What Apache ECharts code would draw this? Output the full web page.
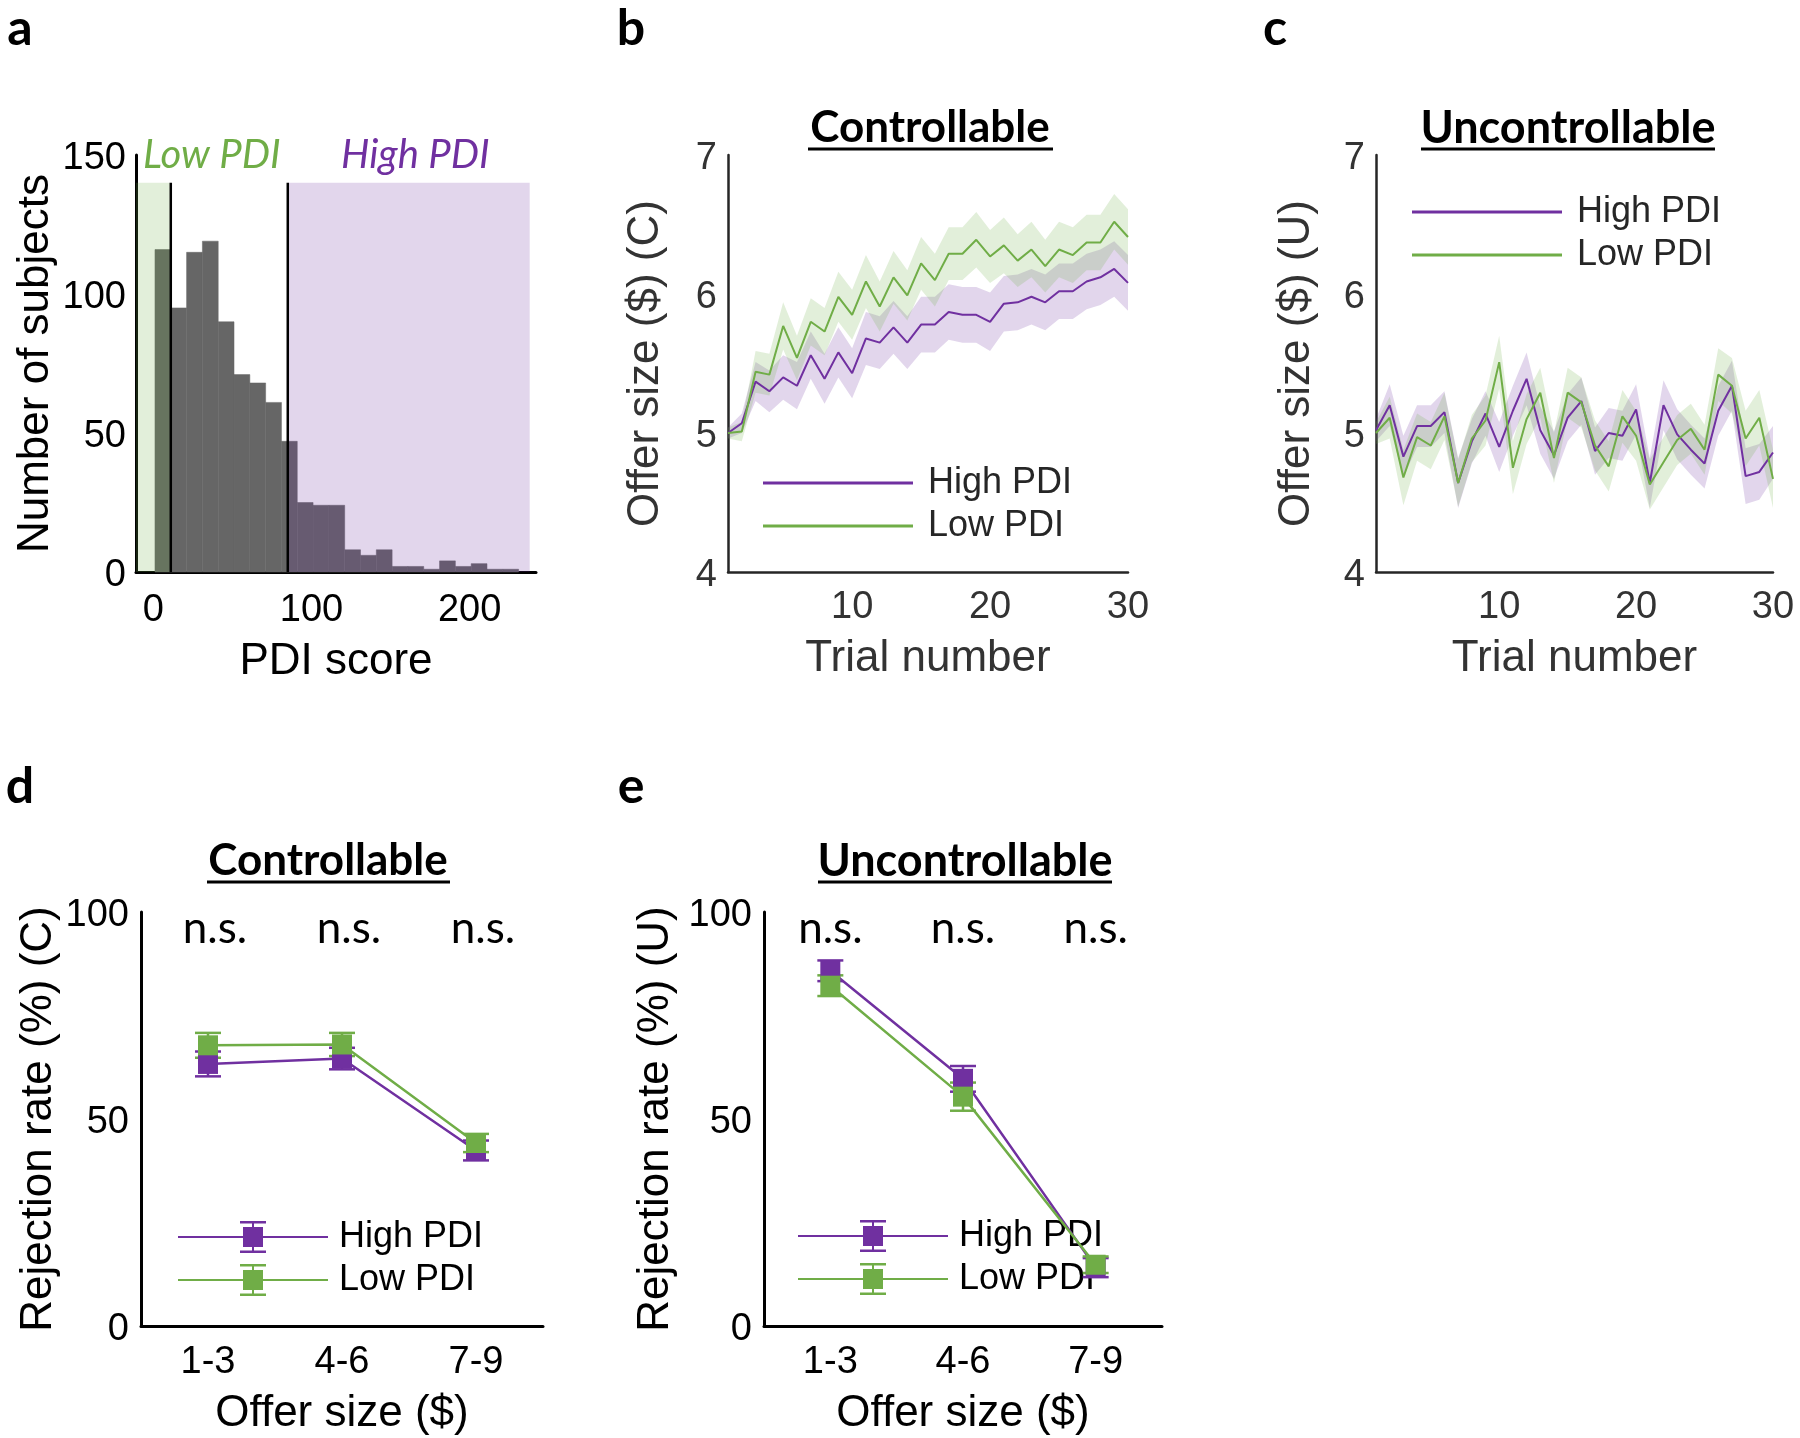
<!DOCTYPE html>
<html>
<head>
<meta charset="utf-8">
<script src="https://cdn.jsdelivr.net/npm/echarts@6.0.0/dist/echarts.min.js"></script>
<style>
html, body { margin: 0; padding: 0; background: #fff; }
#chart { width: 1800px; height: 1438px; }
</style>
</head>
<body>
<div id="chart"></div>
<script>
var PURPLE = "#7030a0", GREEN = "#70ad47";
var PURPLE_BAND = "rgba(112,48,160,0.2)", GREEN_BAND = "rgba(112,173,71,0.2)";
var AX_FONT = "'Liberation Sans', Arial, sans-serif";
var TXT_FONT = "Lato, 'Open Sans', sans-serif";

// panel a: PDI histogram
var pdiBinStart = [1, 11, 21, 31, 41, 51, 61, 71, 81, 91, 101, 111, 121, 131, 141, 151, 161, 171, 181, 191, 201, 211, 221];
var pdiBinWidth = 10;
var pdiCounts = [116, 95, 115, 119, 90, 71, 68, 61, 47, 25, 24, 24, 8, 6, 8, 2, 2, 1, 4, 2, 3, 1, 1];
var pdiCuts = [11, 85];
var pdiGroups = [
    { name: "Low PDI", from: -11, to: 11 },
    { name: "High PDI", from: 85, to: 238 }
];
var pdiGroupTop = 140;

// panels b, c: offer size per trial
var trials = [1, 2, 3, 4, 5, 6, 7, 8, 9, 10, 11, 12, 13, 14, 15, 16, 17, 18, 19, 20, 21, 22, 23, 24, 25, 26, 27, 28, 29, 30];
var ctrlHigh = [5.00, 5.07, 5.37, 5.30, 5.40, 5.34, 5.56, 5.39, 5.58, 5.43, 5.68, 5.65, 5.76, 5.65, 5.78, 5.78, 5.87, 5.85, 5.85, 5.80, 5.93, 5.94, 5.98, 5.94, 6.02, 6.02, 6.09, 6.12, 6.18, 6.08];
var ctrlHighSem = [0.04, 0.07, 0.14, 0.15, 0.16, 0.17, 0.17, 0.18, 0.18, 0.18, 0.19, 0.19, 0.19, 0.19, 0.20, 0.20, 0.20, 0.20, 0.20, 0.21, 0.20, 0.20, 0.20, 0.20, 0.20, 0.20, 0.20, 0.20, 0.20, 0.20];
var ctrlLow = [5.00, 5.01, 5.44, 5.42, 5.77, 5.54, 5.80, 5.73, 5.98, 5.85, 6.09, 5.91, 6.12, 5.99, 6.22, 6.10, 6.29, 6.29, 6.39, 6.27, 6.35, 6.24, 6.32, 6.20, 6.32, 6.28, 6.37, 6.37, 6.52, 6.41];
var ctrlLowSem = [0.04, 0.07, 0.15, 0.15, 0.17, 0.16, 0.17, 0.17, 0.18, 0.18, 0.19, 0.18, 0.19, 0.18, 0.19, 0.19, 0.19, 0.19, 0.20, 0.19, 0.20, 0.19, 0.20, 0.19, 0.20, 0.20, 0.20, 0.20, 0.20, 0.20];
var uncHigh = [5.02, 5.20, 4.83, 5.05, 5.05, 5.15, 4.64, 4.94, 5.14, 4.90, 5.16, 5.39, 5.02, 4.84, 5.11, 5.23, 4.87, 5.00, 4.98, 5.17, 4.64, 5.20, 4.99, 4.88, 4.78, 5.16, 5.34, 4.69, 4.72, 4.86];
var uncHighSem = [0.08, 0.15, 0.15, 0.15, 0.15, 0.15, 0.18, 0.16, 0.16, 0.18, 0.18, 0.19, 0.17, 0.17, 0.17, 0.17, 0.17, 0.18, 0.18, 0.18, 0.18, 0.18, 0.18, 0.18, 0.18, 0.18, 0.18, 0.20, 0.20, 0.19];
var uncLow = [5.00, 5.11, 4.68, 4.97, 4.91, 5.12, 4.64, 4.96, 5.09, 5.51, 4.75, 5.10, 5.29, 4.82, 5.29, 5.22, 4.91, 4.76, 5.12, 4.98, 4.63, 4.79, 4.95, 5.03, 4.88, 5.42, 5.34, 4.96, 5.11, 4.67];
var uncLowSem = [0.08, 0.15, 0.20, 0.17, 0.17, 0.17, 0.17, 0.17, 0.18, 0.19, 0.19, 0.18, 0.18, 0.18, 0.18, 0.18, 0.18, 0.18, 0.19, 0.18, 0.18, 0.18, 0.18, 0.18, 0.18, 0.19, 0.20, 0.20, 0.20, 0.21];

// panels d, e: rejection rate per offer bin
var offerBins = ["1-3", "4-6", "7-9"];
var rejCtrlHigh = [63.3, 64.6, 42.4];
var rejCtrlHighSem = [3.0, 2.6, 2.4];
var rejCtrlLow = [67.8, 68.0, 44.2];
var rejCtrlLowSem = [3.0, 2.8, 2.2];
var rejUncHigh = [85.8, 59.7, 14.1];
var rejUncHighSem = [2.5, 3.1, 2.3];
var rejUncLow = [82.2, 55.4, 14.8];
var rejUncLowSem = [2.5, 3.4, 2.0];
var nsLabels = ["n.s.", "n.s.", "n.s."];

var chart = echarts.init(document.getElementById("chart"));

function axisBase(color, width, fontColor) {
    return {
        axisLine: { show: true, onZero: false, lineStyle: { color: color, width: width } },
        axisTick: { show: false },
        splitLine: { show: false },
        nameLocation: "middle",
        nameTextStyle: { fontSize: 44, color: fontColor, fontFamily: AX_FONT },
        axisLabel: { fontSize: 38, color: fontColor, fontFamily: AX_FONT }
    };
}

function mk(base, extra) {
    var o = JSON.parse(JSON.stringify(base));
    for (var k in extra) {
        if (typeof extra[k] === "object" && !Array.isArray(extra[k]) && o[k]) {
            for (var j in extra[k]) o[k][j] = extra[k][j];
        } else {
            o[k] = extra[k];
        }
    }
    return o;
}

var blackAx = axisBase("#000", 3, "#000");
var grayAx = axisBase("#262626", 2.5, "#333");

function bandSeries(idx, xs, mean, sem, color) {
    return {
        type: "custom", xAxisIndex: idx, yAxisIndex: idx, silent: true, z: 1,
        encode: { x: 0, y: [1, 2] },
        data: xs.map(function (x, i) { return [x, mean[i] - sem[i], mean[i] + sem[i]]; }),
        renderItem: function (params, api) {
            if (params.dataIndex !== 0) return null;
            var up = [], lo = [];
            for (var i = 0; i < xs.length; i++) {
                up.push(api.coord([xs[i], mean[i] + sem[i]]));
                lo.unshift(api.coord([xs[i], mean[i] - sem[i]]));
            }
            return { type: "polygon", shape: { points: up.concat(lo) }, style: { fill: color } };
        }
    };
}

function meanLine(idx, name, xs, mean, color) {
    return {
        type: "line", name: name, xAxisIndex: idx, yAxisIndex: idx, z: 3,
        symbol: "none", silent: true,
        data: xs.map(function (x, i) { return [x, mean[i]]; }),
        itemStyle: { color: color },
        lineStyle: { color: color, width: 2 }
    };
}

function errBars(idx, mean, sem, color) {
    return {
        type: "custom", xAxisIndex: idx, yAxisIndex: idx, silent: true, z: 3,
        encode: { x: 0, y: 1 },
        data: mean.map(function (m, i) { return [i, m, sem[i]]; }),
        renderItem: function (params, api) {
            var x = api.value(0), m = api.value(1), s = api.value(2);
            var hi = api.coord([x, m + s]), lo = api.coord([x, m - s]);
            var st = { stroke: color, lineWidth: 2.5 };
            return {
                type: "group", children: [
                    { type: "line", shape: { x1: hi[0], y1: hi[1], x2: lo[0], y2: lo[1] }, style: st },
                    { type: "line", shape: { x1: hi[0] - 13, y1: hi[1], x2: hi[0] + 13, y2: hi[1] }, style: st },
                    { type: "line", shape: { x1: lo[0] - 13, y1: lo[1], x2: lo[0] + 13, y2: lo[1] }, style: st }
                ]
            };
        }
    };
}

function rateLine(idx, name, mean, color) {
    return {
        type: "line", name: name, xAxisIndex: idx, yAxisIndex: idx, z: 3,
        symbol: "rect", symbolSize: 20, silent: true,
        data: mean,
        itemStyle: { color: color },
        lineStyle: { color: color, width: 2.5 }
    };
}

function nsSeries(idx, dx) {
    return {
        type: "custom", xAxisIndex: idx, yAxisIndex: idx, silent: true, z: 4,
        data: nsLabels.map(function (t, i) { return [i, 96]; }),
        renderItem: function (params, api) {
            var p = api.coord([api.value(0), api.value(1)]);
            return {
                type: "text", x: p[0] + dx, y: p[1],
                style: { text: nsLabels[params.dataIndex], fill: "#000", font: "44px " + TXT_FONT, textAlign: "center", textVerticalAlign: "middle" }
            };
        }
    };
}

var errIcon = "path://M0,15H150V17H0Z M65,6H85V26H65Z M74,0H76V32H74Z M62,0H88V2.5H62Z M62,29.5H88V32H62Z";

function lineLegend(left, top) {
    return {
        orient: "vertical", left: left, top: top, padding: 0, itemWidth: 150, itemHeight: 3, itemGap: 7,
        selectedMode: false,
        textStyle: { fontSize: 36, color: "#262626", fontFamily: AX_FONT, lineHeight: 36, padding: [0, 0, 0, 10] },
        data: [
            { name: "High PDI", icon: "rect", itemStyle: { color: PURPLE } },
            { name: "Low PDI", icon: "rect", itemStyle: { color: GREEN } }
        ]
    };
}

function errLegend(left, top) {
    return {
        orient: "vertical", left: left, top: top, padding: 0, itemWidth: 150, itemHeight: 32, itemGap: 7, z: 1,
        selectedMode: false,
        textStyle: { fontSize: 36, color: "#000", fontFamily: AX_FONT, lineHeight: 36, padding: [0, 0, 0, 6] },
        data: [
            { name: "High PDI", icon: errIcon, itemStyle: { color: PURPLE } },
            { name: "Low PDI", icon: errIcon, itemStyle: { color: GREEN } }
        ]
    };
}

function gtext(x, y, text, font, fill, align) {
    return { type: "text", x: x, y: y, style: { text: text, font: font, fill: fill, textAlign: align || "center", textVerticalAlign: "middle" } };
}
function uline(x1, x2, y) {
    return { type: "line", shape: { x1: x1, y1: y, x2: x2, y2: y }, style: { stroke: "#000", lineWidth: 3 } };
}

var series = [];

// a
series.push({
    type: "custom", xAxisIndex: 0, yAxisIndex: 0, silent: true, z: 1,
    encode: { x: [0, 1], y: 2 },
    data: pdiBinStart.map(function (s, i) { return [s, s + pdiBinWidth, pdiCounts[i]]; }),
    renderItem: function (params, api) {
        var p0 = api.coord([api.value(0), 0]), p1 = api.coord([api.value(1), api.value(2)]);
        return { type: "rect", shape: { x: p0[0], y: p1[1], width: p1[0] - p0[0], height: p0[1] - p1[1] },
                 style: { fill: "#666666", stroke: "#666666", lineWidth: 0.5 } };
    }
});
series.push({
    type: "custom", xAxisIndex: 0, yAxisIndex: 0, silent: true, z: 2,
    encode: { x: [0, 1], y: 2 },
    data: pdiGroups.map(function (g) { return [g.from, g.to, pdiGroupTop]; }),
    renderItem: function (params, api) {
        var p0 = api.coord([api.value(0), 0]), p1 = api.coord([api.value(1), api.value(2)]);
        return { type: "rect", shape: { x: p0[0], y: p1[1], width: p1[0] - p0[0], height: p0[1] - p1[1] },
                 style: { fill: params.dataIndex === 0 ? GREEN_BAND : PURPLE_BAND } };
    }
});
series.push({
    type: "custom", xAxisIndex: 0, yAxisIndex: 0, silent: true, z: 3,
    encode: { x: 0, y: 1 },
    data: pdiCuts.map(function (c) { return [c, pdiGroupTop]; }),
    renderItem: function (params, api) {
        var p0 = api.coord([api.value(0), 0]), p1 = api.coord([api.value(0), api.value(1)]);
        return { type: "line", shape: { x1: p0[0], y1: p0[1], x2: p1[0], y2: p1[1] }, style: { stroke: "#000", lineWidth: 2.5 } };
    }
});

// b
series.push(bandSeries(1, trials, ctrlHigh, ctrlHighSem, PURPLE_BAND));
series.push(bandSeries(1, trials, ctrlLow, ctrlLowSem, GREEN_BAND));
series.push(meanLine(1, "High PDI", trials, ctrlHigh, PURPLE));
series.push(meanLine(1, "Low PDI", trials, ctrlLow, GREEN));
// c
series.push(bandSeries(2, trials, uncHigh, uncHighSem, PURPLE_BAND));
series.push(bandSeries(2, trials, uncLow, uncLowSem, GREEN_BAND));
series.push(meanLine(2, "High PDI", trials, uncHigh, PURPLE));
series.push(meanLine(2, "Low PDI", trials, uncLow, GREEN));
// d
series.push(errBars(3, rejCtrlHigh, rejCtrlHighSem, PURPLE));
series.push(rateLine(3, "High PDI", rejCtrlHigh, PURPLE));
series.push(errBars(3, rejCtrlLow, rejCtrlLowSem, GREEN));
series.push(rateLine(3, "Low PDI", rejCtrlLow, GREEN));
series.push(nsSeries(3, 7));
// e
series.push(errBars(4, rejUncHigh, rejUncHighSem, PURPLE));
series.push(rateLine(4, "High PDI", rejUncHigh, PURPLE));
series.push(errBars(4, rejUncLow, rejUncLowSem, GREEN));
series.push(rateLine(4, "Low PDI", rejUncLow, GREEN));
series.push(nsSeries(4, 0));

// y tick labels sit a few px below their tick in the reference
var yLab = { verticalAlign: "top", lineHeight: 8 };
function ylab(margin) { return { margin: margin, verticalAlign: yLab.verticalAlign, lineHeight: yLab.lineHeight }; }

var option = {
    animation: false,
    backgroundColor: "#fff",
    grid: [
        { left: 136, top: 155, width: 400, height: 417 },
        { left: 728, top: 155, width: 400, height: 417 },
        { left: 1376, top: 155, width: 397, height: 417 },
        { left: 141, top: 912, width: 402, height: 414 },
        { left: 764, top: 912, width: 398, height: 414 }
    ],
    xAxis: [
        mk(blackAx, { gridIndex: 0, type: "value", min: -11, max: 242, name: "PDI score", nameGap: 68,
            axisLabel: { customValues: [0, 100, 200], margin: 20 } }),
        mk(grayAx, { gridIndex: 1, type: "value", min: 1, max: 30, name: "Trial number", nameGap: 65,
            axisLabel: { customValues: [10, 20, 30], margin: 17 } }),
        mk(grayAx, { gridIndex: 2, type: "value", min: 1, max: 30, name: "Trial number", nameGap: 65,
            axisLabel: { customValues: [10, 20, 30], margin: 17 } }),
        mk(blackAx, { gridIndex: 3, type: "category", data: offerBins, boundaryGap: true, name: "Offer size ($)", nameGap: 66,
            axisLabel: { margin: 18 } }),
        mk(blackAx, { gridIndex: 4, type: "category", data: offerBins, boundaryGap: true, name: "Offer size ($)", nameGap: 66,
            axisLabel: { margin: 18 } })
    ],
    yAxis: [
        mk(blackAx, { gridIndex: 0, type: "value", min: 0, max: 150, interval: 50, name: "Number of subjects", nameGap: 78,
            axisLabel: ylab(10) }),
        mk(grayAx, { gridIndex: 1, type: "value", min: 4, max: 7, interval: 1, name: "Offer size ($) (C)", nameGap: 60,
            axisLabel: ylab(11) }),
        mk(grayAx, { gridIndex: 2, type: "value", min: 4, max: 7, interval: 1, name: "Offer size ($) (U)", nameGap: 57,
            axisLabel: ylab(11) }),
        mk(blackAx, { gridIndex: 3, type: "value", min: 0, max: 100, interval: 50, name: "Rejection rate (%) (C)", nameGap: 80,
            axisLabel: ylab(12) }),
        mk(blackAx, { gridIndex: 4, type: "value", min: 0, max: 100, interval: 50, name: "Rejection rate (%) (U)", nameGap: 86,
            axisLabel: ylab(12) })
    ],
    legend: [
        lineLegend(763, 465),
        lineLegend(1412, 194),
        errLegend(178, 1219),
        errLegend(798, 1218)
    ],
    graphic: [
        gtext(20, 29, "a", "bold 50px " + TXT_FONT, "#000"),
        gtext(631, 29, "b", "bold 50px " + TXT_FONT, "#000"),
        gtext(1275, 29, "c", "bold 50px " + TXT_FONT, "#000"),
        gtext(20, 787, "d", "bold 50px " + TXT_FONT, "#000"),
        gtext(631, 787, "e", "bold 50px " + TXT_FONT, "#000"),
        gtext(930, 128, "Controllable", "bold 44px " + TXT_FONT, "#000"),
        uline(808, 1053, 149),
        gtext(1568, 128, "Uncontrollable", "bold 45px " + TXT_FONT, "#000"),
        uline(1421, 1715, 149),
        gtext(328, 861, "Controllable", "bold 44px " + TXT_FONT, "#000"),
        uline(207, 450, 882),
        gtext(965, 861, "Uncontrollable", "bold 45px " + TXT_FONT, "#000"),
        uline(818, 1112, 882),
        gtext(143, 155, "Low PDI", "italic 40px " + TXT_FONT, GREEN, "left"),
        gtext(341, 155, "High PDI", "italic 40px " + TXT_FONT, PURPLE, "left")
    ],
    series: series
};

chart.setOption(option);
</script>
</body>
</html>
